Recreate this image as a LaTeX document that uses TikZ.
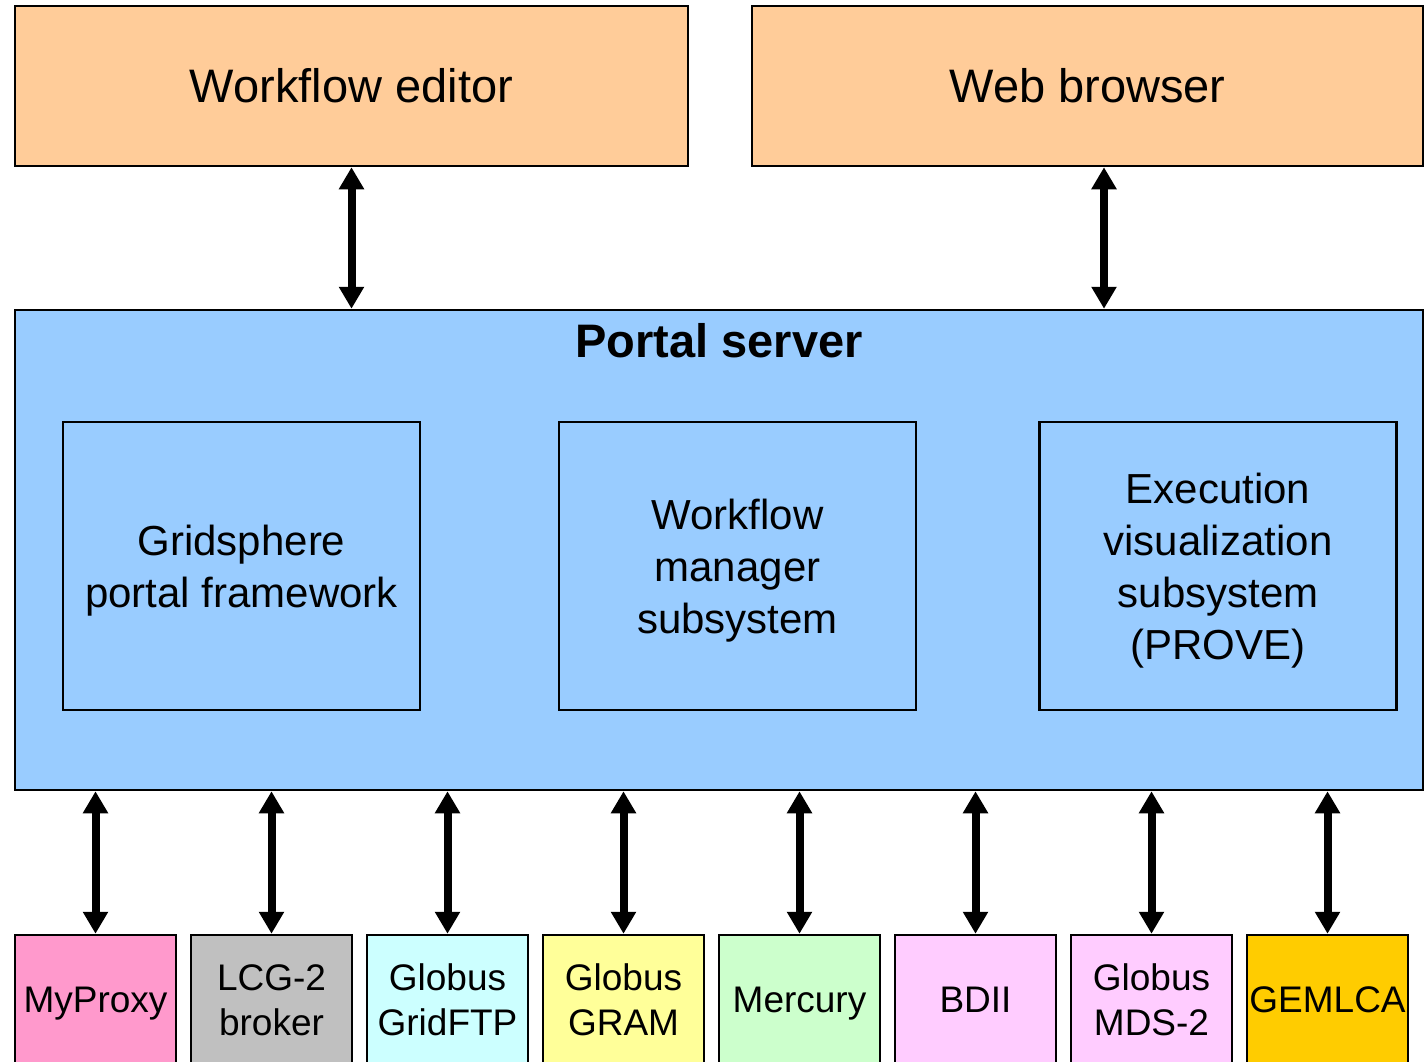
\documentclass[tikz,border=0pt]{standalone}
\usepackage{fontspec}
\setmainfont{Liberation Sans}
\usetikzlibrary{arrows.meta, positioning}
\definecolor{clientpeach}{HTML}{FFCC99}
\definecolor{portalblue}{HTML}{99CCFF}
\definecolor{svcpink}{HTML}{FF99CC}
\definecolor{svcgrey}{HTML}{C0C0C0}
\definecolor{svccyan}{HTML}{CCFFFF}
\definecolor{svcyellow}{HTML}{FFFF99}
\definecolor{svcgreen}{HTML}{CCFFCC}
\definecolor{svcviolet}{HTML}{FFCCFF}
\definecolor{svcgold}{HTML}{FFCC00}

\begin{document}
\begin{tikzpicture}[x=0.5pt, y=-0.5pt,
    box/.style={draw=black, line width=1.25pt, fill=#1, inner sep=0pt, align=center},
    client/.style={box=clientpeach, minimum height=80pt, font=\fontsize{23.5}{28}\selectfont},
    part/.style={box=portalblue, minimum width=178.5pt, minimum height=144pt,
                 text depth=0pt, font=\fontsize{21}{26}\selectfont},
    svc/.style={box=#1, minimum width=80.5pt, minimum height=65pt,
                text depth=0pt, font=\fontsize{18.5}{22.5}\selectfont},
    link/.style={line width=4pt,
                 {Triangle[length=11pt,width=12pt]}-{Triangle[length=11pt,width=12pt]}},
]
    \clip (0,0) rectangle (1427,1061);

    % clients
    \node[client, minimum width=336.5pt] (editor) at (351.5, 86) {Workflow editor};
    \node[client, minimum width=335.5pt] (browser) at (1087.5, 86) {Web browser};

    % portal server and its subsystems
    \node[box=portalblue, minimum width=704pt, minimum height=240pt] (portal) at (719, 550) {};
    \node[font=\fontsize{23.5}{28}\selectfont\bfseries] (title) at (719, 341) {Portal server};
    \node[part] (gridsphere) at (241.5, 566) {Gridsphere\\portal framework};
    \node[part] (manager) at (737.5, 566) {Workflow\\manager\\subsystem};
    \node[part] (prove) at (1218, 566) {Execution\\visualization\\subsystem\\(PROVE)};

    \draw[link] (editor.south) -- (editor.south |- portal.north);
    \draw[link] ([xshift=8.25pt]browser.south) -- ([xshift=8.25pt]browser.south |- portal.north);

    % grid services
    \foreach \name/\col/\txt [count=\i from 0] in {
        myproxy/svcpink/MyProxy,
        lcg/svcgrey/{LCG-2\\broker},
        gridftp/svccyan/{Globus\\GridFTP},
        gram/svcyellow/{Globus\\GRAM},
        mercury/svcgreen/Mercury,
        bdii/svcviolet/BDII,
        mds/svcviolet/{Globus\\MDS-2},
        gemlca/svcgold/GEMLCA} {
        \node[svc=\col] (\name) at (95.5+176*\i, 1000) {\txt};
        \draw[link] (\name.north) -- (\name.north |- portal.south);
    }
\end{tikzpicture}
\end{document}
